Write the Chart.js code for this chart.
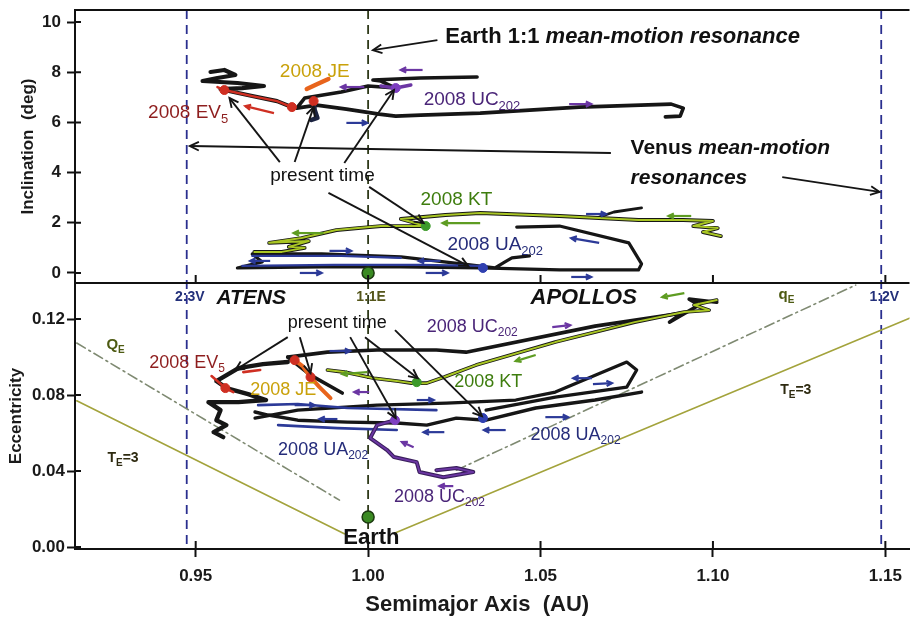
<!DOCTYPE html>
<html>
<head>
<meta charset="utf-8">
<script src="https://cdn.jsdelivr.net/npm/chart.js@4.4.1/dist/chart.umd.min.js"></script>
<style>
  html, body { margin: 0; padding: 0; background: #fff; }
  #wrap { width: 917px; height: 617px; }
</style>
</head>
<body>
<div id="wrap"><canvas id="orbits" width="917" height="617"></canvas></div>
<script>
// axis ticks
const aTicks = [0.95, 1.00, 1.05, 1.10, 1.15];
const incTicks = [0, 2, 4, 6, 8, 10];
const eccTicks = [0, 0.04, 0.08, 0.12];

// ---- inclination panel: semimajor axis (AU) vs inclination (deg) ----
const ev5IncA = [0.9543, 0.9583, 0.9615, 0.9563, 0.9520, 0.9621, 0.9698, 0.9635, 0.9572, 0.9583, 0.9664, 0.9736, 0.9779];
const ev5IncI = [8.01, 8.09, 7.89, 7.77, 7.65, 7.57, 7.45, 7.37, 7.33, 7.29, 7.05, 6.85, 6.61];
const ev5RedIncA = [0.9563, 0.9583, 0.9664, 0.9736, 0.9779];
const ev5RedIncI = [7.41, 7.29, 7.05, 6.85, 6.61];
const jeIncA = [0.9822, 0.9853, 0.9885];
const jeIncI = [7.33, 7.53, 7.73];
const jeStemIncA = [0.9842, 0.9845, 0.9853, 0.9836];
const jeStemIncI = [6.85, 6.49, 6.18, 6.10];
const ucIncA = [1.0862, 1.0905, 1.0914, 1.0879, 1.0612, 1.0325, 1.0152, 1.0080, 1.0032, 0.9937, 0.9851, 0.9793, 0.9816, 0.9922, 1.0000, 1.0080, 1.0037, 1.0014, 1.0152, 1.0316];
const ucIncI = [6.22, 6.25, 6.57, 6.73, 6.61, 6.37, 6.29, 6.25, 6.33, 6.53, 6.69, 6.57, 6.97, 7.21, 7.45, 7.37, 7.65, 7.69, 7.77, 7.81];
const ucPurpleIncA = [1.0037, 1.0080, 1.0124];
const ucPurpleIncI = [7.45, 7.37, 7.49];
const ktIncA = [1.1023, 1.0971, 1.1014, 1.0943, 1.1000, 1.0914, 1.0784, 1.0555, 1.0325, 1.0224, 1.0095, 1.0167, 1.0037, 0.9971, 0.9908, 0.9807, 0.9713, 0.9828, 0.9770, 0.9816, 0.9750, 0.9670];
const ktIncI = [1.47, 1.63, 1.79, 1.87, 2.07, 2.11, 2.11, 2.27, 2.39, 2.31, 2.15, 1.87, 1.87, 1.79, 1.71, 1.39, 1.20, 1.27, 1.04, 1.00, 0.84, 0.84];
const uaIncA = [1.0431, 1.0555, 1.0756, 1.0793, 1.0784, 1.0555, 1.0325, 1.0095, 0.9865, 0.9621, 0.9693, 0.9664, 0.9865, 1.0095, 1.0296, 1.0368, 1.0397, 1.0417, 1.0468];
const uaIncI = [1.83, 1.87, 1.20, 0.36, 0.12, 0.12, 0.20, 0.24, 0.24, 0.20, 0.44, 0.76, 0.76, 0.64, 0.32, 0.20, 0.44, 0.60, 0.68];
const uaNavyIncA = [0.9635, 0.9902, 1.0152, 1.0325];
const uaNavyIncI = [0.28, 0.32, 0.32, 0.28];
const uaNavy2IncA = [0.9664, 0.9922, 1.0095];
const uaNavy2IncI = [0.68, 0.68, 0.60];
const wedgeIncA = [1.0670, 1.0713, 1.0793];
const wedgeIncI = [2.23, 2.43, 2.59];

// ---- eccentricity panel: semimajor axis (AU) vs eccentricity ----
const ev5EccA = [0.9767, 0.9695, 0.9624, 0.9560, 0.9589, 0.9652, 0.9704, 0.9624, 0.9537, 0.9572, 0.9560, 0.9589, 0.9552, 0.9580];
const ev5EccE = [0.0974, 0.0963, 0.0942, 0.0874, 0.0837, 0.0805, 0.0774, 0.0763, 0.0763, 0.0721, 0.0668, 0.0642, 0.0605, 0.0579];
const ev5RedEccA = [0.9546, 0.9586, 0.9609];
const ev5RedEccE = [0.0900, 0.0837, 0.0816];
const ev5Red2EccA = [0.9638, 0.9687];
const ev5Red2EccE = [0.0921, 0.0932];
const jeEccA = [0.9787, 0.9810, 0.9833, 0.9859, 0.9891];
const jeEccE = [0.0984, 0.0953, 0.0895, 0.0842, 0.0784];
const jeBlackEccA = [0.9767, 0.9833, 0.9925];
const jeBlackEccE = [0.1000, 0.0905, 0.0811];
const ucEccA = [1.1011, 1.0931, 1.0960, 1.0874, 1.0911, 1.0658, 1.0284, 1.0198, 1.0026, 0.9882, 0.9767];
const ucEccE = [0.1289, 0.1305, 0.1274, 0.1184, 0.1232, 0.1163, 0.1026, 0.1037, 0.1037, 0.1026, 0.1000];
const ucLowEccA = [1.0078, 1.0026, 1.0006, 1.0055, 1.0075, 1.0141, 1.0149, 1.0218, 1.0305, 1.0256, 1.0198];
const ucLowEccE = [0.0668, 0.0642, 0.0574, 0.0511, 0.0474, 0.0447, 0.0395, 0.0368, 0.0395, 0.0416, 0.0405];
const uaEccA = [1.0793, 1.0658, 1.0486, 1.0342, 1.0256, 1.0170, 1.0083, 0.9940, 0.9796, 0.9710, 0.9672];
const uaEccE = [0.0816, 0.0774, 0.0732, 0.0668, 0.0679, 0.0642, 0.0653, 0.0658, 0.0668, 0.0695, 0.0711];
const ua2EccA = [0.9672, 0.9796, 1.0026, 1.0227, 1.0428, 1.0543, 1.0750, 1.0779, 1.0750, 1.0543, 1.0342];
const ua2EccE = [0.0679, 0.0721, 0.0747, 0.0758, 0.0774, 0.0816, 0.0974, 0.0932, 0.0842, 0.0789, 0.0721];
const uaNavyEccA = [0.9681, 0.9796, 0.9940, 1.0198];
const uaNavyEccE = [0.0747, 0.0753, 0.0732, 0.0721];
const uaNavy2EccA = [0.9739, 0.9911, 1.0083];
const uaNavy2EccE = [0.0642, 0.0626, 0.0616];
const ktEccA = [1.1011, 1.0945, 1.0989, 1.0917, 1.0773, 1.0543, 1.0313, 1.0221, 1.0170, 1.0126, 1.0083, 1.0017, 0.9931, 0.9882];
const ktEccE = [0.1300, 0.1274, 0.1247, 0.1237, 0.1184, 0.1079, 0.0958, 0.0895, 0.0863, 0.0863, 0.0874, 0.0889, 0.0921, 0.0932];

// present-time positions (EV5, JE, UC202, KT, UA202, extra red mark)
const nowIncA = [0.9583, 0.9842, 1.0080, 1.0167, 1.0333, 0.9779];
const nowIncI = [7.29, 6.85, 7.37, 1.87, 0.20, 6.61];
const nowEccA = [0.9586, 0.9833, 1.0078, 1.0141, 1.0333, 0.9787];
const nowEccE = [0.0837, 0.0895, 0.0668, 0.0868, 0.0679, 0.0984];
const earthA = [1.0];
const earthI = [0];
const earthE = [0.0158];

// boundary curves: Tisserand T_E = 3 (broken under the "Earth" label), Q_E = 1 AU, q_E = 1 AU
const tLeftA = [0.9155, 0.9931], tLeftE = [0.077, 0.0070];
const tRightA = [1.0078, 1.157], tRightE = [0.0074, 0.1205];
const qAphA = [0.9155, 0.9917], qAphE = [0.1074, 0.0247];
const qPerA = [1.0256, 1.1414], qPerE = [0.0405, 0.1379];

// mean-motion resonances
const resA = [0.9474, 1.0, 1.1488];
const resNames = ['2:3V', '1:1E', '1:2V'];

const fam = '"Liberation Sans", Arial, sans-serif';
const C = { black: '#161616', red: '#cf2f22', orange: '#e8641c', purple: '#6b36a3', green: '#a9c624',
  navy: '#2c3a98', earth: '#3a8a22', olive: '#a3a33c', dashdot: '#7f8a72' };

function pts(a, v) { return a.map((x, k) => ({ x: x, y: v[k] })); }
function track(a, v, axis, color, width, dash) {
  return { data: pts(a, v), yAxisID: axis, showLine: true, borderColor: color, borderWidth: width,
    borderDash: dash || [], pointRadius: 0, tension: 0, fill: false, borderJoinStyle: 'round', borderCapStyle: 'round' };
}
function dots(a, v, axis, colors, r) {
  return { data: pts(a, v), yAxisID: axis, showLine: false, pointRadius: r,
    pointBackgroundColor: colors, pointBorderColor: colors, pointBorderWidth: 1 };
}
const nowColors = [C.red, C.red, '#7d3fc0', '#3c9a2a', '#3040b0', C.red];

// listed bottom layer first
const layers = [
  track(tLeftA, tLeftE, 'yEcc', C.olive, 1.6),
  track(tRightA, tRightE, 'yEcc', C.olive, 1.6),
  track(qAphA, qAphE, 'yEcc', C.dashdot, 1.6, [10, 4, 2, 4]),
  track(qPerA, qPerE, 'yEcc', C.dashdot, 1.6, [10, 4, 2, 4]),
  track(uaIncA, uaIncI, 'yInc', C.black, 3.2),
  track(uaNavyIncA, uaNavyIncI, 'yInc', C.navy, 2.2),
  track(uaNavy2IncA, uaNavy2IncI, 'yInc', C.navy, 2.2),
  track(wedgeIncA, wedgeIncI, 'yInc', C.black, 2.8),
  track(ktIncA, ktIncI, 'yInc', C.black, 3.8),
  track(ktIncA, ktIncI, 'yInc', C.green, 2),
  track(ucIncA, ucIncI, 'yInc', C.black, 3.6),
  track(ucPurpleIncA, ucPurpleIncI, 'yInc', C.purple, 3.4),
  track(ev5IncA, ev5IncI, 'yInc', C.black, 4.2),
  track(ev5RedIncA, ev5RedIncI, 'yInc', C.red, 2.4),
  track(jeStemIncA, jeStemIncI, 'yInc', '#1b2340', 4.6),
  track(jeIncA, jeIncI, 'yInc', C.orange, 4.4),
  track(uaEccA, uaEccE, 'yEcc', C.black, 3.4),
  track(ua2EccA, ua2EccE, 'yEcc', C.black, 3.2),
  track(uaNavyEccA, uaNavyEccE, 'yEcc', C.navy, 2.6),
  track(uaNavy2EccA, uaNavy2EccE, 'yEcc', C.navy, 2.6),
  track(ucEccA, ucEccE, 'yEcc', C.black, 3.6),
  track(ucLowEccA, ucLowEccE, 'yEcc', '#3a1f5c', 4),
  track(ucLowEccA, ucLowEccE, 'yEcc', C.purple, 1.8),
  track(ktEccA, ktEccE, 'yEcc', C.black, 3.6),
  track(ktEccA, ktEccE, 'yEcc', C.green, 2),
  track(ev5EccA, ev5EccE, 'yEcc', C.black, 4.4),
  track(ev5RedEccA, ev5RedEccE, 'yEcc', C.red, 2.6),
  track(ev5Red2EccA, ev5Red2EccE, 'yEcc', C.red, 2.6),
  track(jeBlackEccA, jeBlackEccE, 'yEcc', C.black, 3.6),
  track(jeEccA, jeEccE, 'yEcc', C.orange, 4),
  dots(nowIncA, nowIncI, 'yInc', nowColors, 4.5),
  dots(nowEccA, nowEccE, 'yEcc', nowColors, 4.5),
  { data: pts(earthA, earthI), yAxisID: 'yInc', showLine: false, pointRadius: 6, pointBackgroundColor: C.earth, pointBorderColor: '#1c3a10', pointBorderWidth: 1.5 },
  { data: pts(earthA, earthE), yAxisID: 'yEcc', showLine: false, pointRadius: 6, pointBackgroundColor: C.earth, pointBorderColor: '#1c3a10', pointBorderWidth: 1.5 }
];

// annotations (data coordinates)
const pointers = [
  ['yInc', 0.9744, 4.42, 0.9598, 6.97], ['yInc', 0.9787, 4.42, 0.9842, 6.61],
  ['yInc', 0.9931, 4.38, 1.0075, 7.29], ['yInc', 1.0003, 3.43, 1.0161, 1.99],
  ['yInc', 0.9885, 3.19, 1.0290, 0.28],
  ['yInc', 1.0201, 9.28, 1.0014, 8.88],
  ['yInc', 1.0704, 4.78, 0.9483, 5.06], ['yInc', 1.1201, 3.82, 1.1483, 3.23],
  ['yEcc', 0.9767, 0.1105, 0.9615, 0.0932], ['yEcc', 0.9802, 0.1105, 0.9833, 0.0916],
  ['yEcc', 0.9948, 0.1105, 1.0080, 0.0679], ['yEcc', 0.9991, 0.1105, 1.0144, 0.0889],
  ['yEcc', 1.0078, 0.1142, 1.0330, 0.0689]
];
const flowArrows = [
  ['yInc', 0.9727, 6.37, 0.9644, 6.65, C.red], ['yInc', 0.9937, 5.98, 0.9997, 5.98, C.navy],
  ['yInc', 1.0158, 8.09, 1.0095, 8.09, C.purple], ['yInc', 0.9989, 7.41, 0.9922, 7.41, C.purple],
  ['yInc', 1.0583, 6.73, 1.0647, 6.73, C.purple], ['yInc', 0.9871, 1.59, 0.9784, 1.59, '#5e9c22'],
  ['yInc', 1.0325, 1.99, 1.0216, 1.99, '#5e9c22'], ['yInc', 1.0937, 2.27, 1.0871, 2.27, '#5e9c22'],
  ['yInc', 1.0632, 2.35, 1.0690, 2.35, C.navy], ['yInc', 1.0670, 1.20, 1.0589, 1.39, C.navy],
  ['yInc', 1.0589, -0.16, 1.0647, -0.16, C.navy], ['yInc', 0.9888, 0.88, 0.9951, 0.88, C.navy],
  ['yInc', 0.9716, 0.48, 0.9658, 0.48, C.navy], ['yInc', 1.0210, 0.48, 1.0147, 0.48, C.navy],
  ['yInc', 0.9802, 0.0, 0.9865, 0.0, C.navy], ['yInc', 1.0167, 0.0, 1.0230, 0.0, C.navy],
  ['yEcc', 0.9888, 0.1032, 0.9948, 0.1032, C.navy], ['yEcc', 1.0003, 0.0816, 0.9960, 0.0816, C.purple],
  ['yEcc', 0.9787, 0.0747, 0.9845, 0.0747, C.navy], ['yEcc', 0.9911, 0.0674, 0.9859, 0.0674, C.navy],
  ['yEcc', 1.0141, 0.0774, 1.0190, 0.0774, C.navy], ['yEcc', 1.0221, 0.0605, 1.0161, 0.0605, C.navy],
  ['yEcc', 1.0399, 0.0616, 1.0336, 0.0616, C.navy], ['yEcc', 1.0132, 0.0526, 1.0098, 0.0553, C.purple],
  ['yEcc', 1.0247, 0.0321, 1.0207, 0.0321, C.purple], ['yEcc', 1.0534, 0.1158, 1.0586, 0.1168, C.purple],
  ['yEcc', 1.0486, 0.1011, 1.0428, 0.0979, '#5e9c22'], ['yEcc', 0.9997, 0.0921, 0.9925, 0.0911, '#5e9c22'],
  ['yEcc', 1.0649, 0.0889, 1.0595, 0.0889, C.navy], ['yEcc', 1.0652, 0.0858, 1.0707, 0.0863, C.navy],
  ['yEcc', 1.0514, 0.0684, 1.0580, 0.0684, C.navy], ['yEcc', 1.0917, 0.1337, 1.0853, 0.1316, '#5e9c22']
];
const notes = [
  { axis: 'yInc', a: 0.9362, v: 6.37, parts: [['2008 EV'], ['5', 1]], size: 19, color: '#8e1e1e' },
  { axis: 'yInc', a: 0.9744, v: 8.01, parts: [['2008 JE']], size: 19, color: '#c9a10a' },
  { axis: 'yInc', a: 1.0161, v: 6.89, parts: [['2008 UC'], ['202', 1]], size: 19, color: '#4a2578' },
  { axis: 'yInc', a: 1.0152, v: 2.91, parts: [['2008 KT']], size: 19, color: '#3e7d0e' },
  { axis: 'yInc', a: 1.0230, v: 1.12, parts: [['2008 UA'], ['202', 1]], size: 19, color: '#252c7a' },
  { axis: 'yInc', a: 0.9716, v: 3.86, parts: [['present time']], size: 19, color: '#111' },
  { axis: 'yInc', a: 1.0224, v: 9.40, parts: [['Earth 1:1 ', 0, 'bold'], ['mean-motion resonance', 0, 'italic bold']], size: 22, color: '#111' },
  { axis: 'yInc', a: 1.0761, v: 4.98, parts: [['Venus ', 0, 'bold'], ['mean-motion', 0, 'italic bold']], size: 21, color: '#111' },
  { axis: 'yInc', a: 1.0761, v: 3.78, parts: [['resonances', 0, 'italic bold']], size: 21, color: '#111' },
  { axis: 'yEcc', a: 0.9365, v: 0.0968, parts: [['2008 EV'], ['5', 1]], size: 18, color: '#8e1e1e' },
  { axis: 'yEcc', a: 0.9658, v: 0.0826, parts: [['2008 JE']], size: 18, color: '#c9a10a' },
  { axis: 'yEcc', a: 1.0170, v: 0.1158, parts: [['2008 UC'], ['202', 1]], size: 18, color: '#4a2578' },
  { axis: 'yEcc', a: 1.0250, v: 0.0868, parts: [['2008 KT']], size: 18, color: '#3e7d0e' },
  { axis: 'yEcc', a: 0.9739, v: 0.0511, parts: [['2008 UA'], ['202', 1]], size: 18, color: '#252c7a' },
  { axis: 'yEcc', a: 1.0471, v: 0.0589, parts: [['2008 UA'], ['202', 1]], size: 18, color: '#252c7a' },
  { axis: 'yEcc', a: 1.0075, v: 0.0263, parts: [['2008 UC'], ['202', 1]], size: 18, color: '#4a2578' },
  { axis: 'yEcc', a: 0.9767, v: 0.1179, parts: [['present time']], size: 18, color: '#111' },
  { axis: 'yEcc', a: 0.9560, v: 0.1311, parts: [['ATENS', 0, 'italic bold']], size: 21, color: '#111' },
  { axis: 'yEcc', a: 1.0471, v: 0.1311, parts: [['APOLLOS', 0, 'italic bold']], size: 22, color: '#111' },
  { axis: 'yEcc', a: 0.9241, v: 0.1063, parts: [['Q', 0, 'bold'], ['E', 1, 'bold']], size: 15, color: '#4d5a12' },
  { axis: 'yEcc', a: 1.1190, v: 0.1326, parts: [['q', 0, 'bold'], ['E', 1, 'bold']], size: 15, color: '#4d5a12' },
  { axis: 'yEcc', a: 0.9244, v: 0.0468, parts: [['T', 0, 'bold'], ['E', 1, 'bold'], ['=3', 0, 'bold']], size: 14, color: '#2e2a10' },
  { axis: 'yEcc', a: 1.1195, v: 0.0826, parts: [['T', 0, 'bold'], ['E', 1, 'bold'], ['=3', 0, 'bold']], size: 14, color: '#2e2a10' },
  { axis: 'yEcc', a: 0.9928, v: 0.0047, parts: [['Earth', 0, 'bold']], size: 22, color: '#111' }
];

function arrowHead(c, x1, y1, x2, y2, len) {
  const ang = Math.atan2(y2 - y1, x2 - x1);
  c.beginPath();
  c.moveTo(x2 - len * Math.cos(ang - 0.45), y2 - len * Math.sin(ang - 0.45));
  c.lineTo(x2, y2);
  c.lineTo(x2 - len * Math.cos(ang + 0.45), y2 - len * Math.sin(ang + 0.45));
  c.stroke();
}

const decor = {
  id: 'decor',
  beforeDatasetsDraw(chart) {
    const c = chart.ctx, x = chart.scales.x, yi = chart.scales.yInc, ye = chart.scales.yEcc;
    c.save();
    resA.forEach((a, k) => {
      const px = x.getPixelForValue(a);
      c.strokeStyle = k === 1 ? '#2f3a1a' : '#2a2f8f';
      c.lineWidth = 1.8;
      c.setLineDash([9, 6]);
      c.beginPath();
      c.moveTo(px, yi.top);
      c.lineTo(px, ye.bottom);
      c.stroke();
    });
    c.restore();
  },
  afterDatasetsDraw(chart) {
    const c = chart.ctx, x = chart.scales.x, yi = chart.scales.yInc, ye = chart.scales.yEcc;
    const sc = { yInc: yi, yEcc: ye };
    c.save();
    // frames and inner tick marks
    c.strokeStyle = '#111';
    c.lineWidth = 2;
    c.beginPath();
    c.moveTo(x.left, yi.top); c.lineTo(x.right, yi.top);
    c.moveTo(x.left, yi.bottom); c.lineTo(x.right, yi.bottom);
    aTicks.forEach(a => {
      const px = x.getPixelForValue(a);
      c.moveTo(px, yi.bottom); c.lineTo(px, yi.bottom - 8);
      c.moveTo(px, ye.bottom); c.lineTo(px, ye.bottom - 8);
    });
    incTicks.forEach(v => { const py = yi.getPixelForValue(v); c.moveTo(x.left, py); c.lineTo(x.left + 6, py); });
    eccTicks.forEach(v => { const py = ye.getPixelForValue(v); c.moveTo(x.left, py); c.lineTo(x.left + 6, py); });
    c.stroke();

    // present-time and resonance pointers
    c.strokeStyle = '#151515';
    c.lineWidth = 1.9;
    pointers.forEach(p => {
      const s = sc[p[0]];
      const x1 = x.getPixelForValue(p[1]), y1 = s.getPixelForValue(p[2]);
      const x2 = x.getPixelForValue(p[3]), y2 = s.getPixelForValue(p[4]);
      c.beginPath(); c.moveTo(x1, y1); c.lineTo(x2, y2); c.stroke();
      arrowHead(c, x1, y1, x2, y2, 10);
    });
    // direction-of-motion arrows
    c.lineWidth = 2.2;
    flowArrows.forEach(p => {
      const s = sc[p[0]];
      const x1 = x.getPixelForValue(p[1]), y1 = s.getPixelForValue(p[2]);
      const x2 = x.getPixelForValue(p[3]), y2 = s.getPixelForValue(p[4]);
      c.strokeStyle = p[5];
      c.beginPath(); c.moveTo(x1, y1); c.lineTo(x2, y2); c.stroke();
      arrowHead(c, x1, y1, x2, y2, 6);
    });

    // text notes
    c.textBaseline = 'middle';
    c.textAlign = 'left';
    notes.forEach(n => {
      let px = x.getPixelForValue(n.a);
      const py = sc[n.axis].getPixelForValue(n.v);
      c.fillStyle = n.color;
      n.parts.forEach(part => {
        const isSub = part[1] === 1;
        const size = isSub ? Math.round(n.size * 0.68) : n.size;
        c.font = (part[2] || 'normal') + ' ' + size + 'px ' + fam;
        c.fillText(part[0], px, isSub ? py + n.size * 0.33 : py);
        px += c.measureText(part[0]).width;
      });
    });

    // resonance names on top of the eccentricity panel
    c.font = 'bold 14px ' + fam;
    c.textAlign = 'center';
    resA.forEach((a, k) => {
      c.fillStyle = k === 1 ? '#55561a' : '#23307a';
      c.fillText(resNames[k], x.getPixelForValue(a) + 3, ye.top + 14);
    });

    // x axis title
    c.fillStyle = '#1a1a1a';
    c.font = 'bold 22px ' + fam;
    c.fillText('Semimajor Axis  (AU)', x.left + (x.right - x.left) * 0.482, chart.height - 12);
    c.restore();
  }
};

// keep the plot frame fixed: no extra room for half tick labels
function fixY(s) { s.width = 75; s.paddingTop = 0; s.paddingBottom = 0; }

const tickFont = { family: fam, size: 17, weight: 'bold' };
const ctx = document.getElementById('orbits').getContext('2d');
const chart = new Chart(ctx, {
  type: 'scatter',
  data: { datasets: layers.slice().reverse() },
  options: {
    responsive: false,
    animation: false,
    devicePixelRatio: 1,
    layout: { padding: { top: 10, right: 0, left: 0, bottom: 0 } },
    plugins: { legend: { display: false }, tooltip: { enabled: false } },
    scales: {
      x: {
        type: 'linear', min: 0.915, max: 1.157,
        afterBuildTicks: s => { s.ticks = aTicks.map(v => ({ value: v })); },
        afterFit: s => { s.height = 68; s.paddingLeft = 0; s.paddingRight = 0; },
        grid: { drawOnChartArea: false, tickLength: 8, tickWidth: 2, tickColor: '#111' },
        border: { color: '#111', width: 2 },
        ticks: { font: tickFont, color: '#1a1a1a', padding: 9, maxRotation: 0, callback: v => v.toFixed(2) }
      },
      yEcc: {
        type: 'linear', position: 'left', stack: 'panels', stackWeight: 266, min: -0.001, max: 0.139,
        afterBuildTicks: s => { s.ticks = eccTicks.map(v => ({ value: v })); },
        afterFit: fixY,
        grid: { drawOnChartArea: false, tickLength: 8, tickWidth: 2, tickColor: '#111' },
        border: { color: '#111', width: 2 },
        ticks: { font: tickFont, color: '#1a1a1a', padding: 2, callback: v => v.toFixed(2) },
        title: { display: true, text: 'Eccentricity', font: { family: fam, size: 17, weight: 'bold' }, color: '#1a1a1a', padding: { top: 6, bottom: 0 } }
      },
      yInc: {
        type: 'linear', position: 'left', stack: 'panels', stackWeight: 273, min: -0.4, max: 10.48,
        afterBuildTicks: s => { s.ticks = incTicks.map(v => ({ value: v })); },
        afterFit: fixY,
        grid: { drawOnChartArea: false, tickLength: 8, tickWidth: 2, tickColor: '#111' },
        border: { color: '#111', width: 2 },
        ticks: { font: tickFont, color: '#1a1a1a', padding: 6, callback: v => String(v) },
        title: { display: true, text: 'Inclination  (deg)', font: { family: fam, size: 17, weight: 'bold' }, color: '#1a1a1a', padding: { top: 18, bottom: 0 } }
      }
    }
  },
  plugins: [decor]
});
</script>
</body>
</html>
